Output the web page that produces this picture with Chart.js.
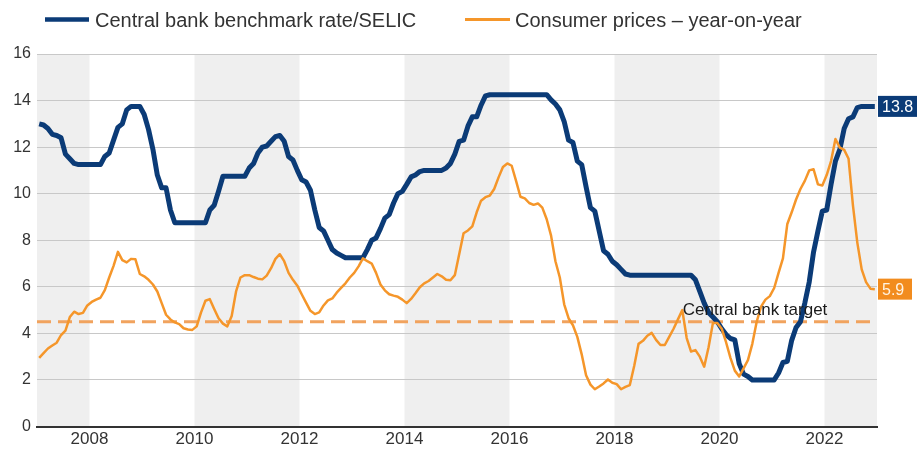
<!DOCTYPE html>
<html>
<head>
<meta charset="utf-8">
<script src="https://cdn.jsdelivr.net/npm/chart.js@4.4.0/dist/chart.umd.min.js"></script>
<style>
  html, body { margin: 0; padding: 0; background: #ffffff; }
  #wrap { width: 917px; height: 449px; position: relative; }
</style>
</head>
<body>
<div id="wrap"><canvas id="c" width="917" height="449"></canvas></div>
<script>
// ---------------- data ----------------
const startYear = 2007; // monthly data, January 2007 to December 2022
const seriesNames = ['Central bank benchmark rate/SELIC', 'Consumer prices \u2013 year-on-year'];

const selicRate = [
  13.0, 12.95, 12.8, 12.55, 12.5, 12.4, 11.7, 11.5, 11.3, 11.25, 11.25, 11.25,   // 2007
  11.25, 11.25, 11.25, 11.6, 11.75, 12.3, 12.85, 13.0, 13.6, 13.75, 13.75, 13.75, // 2008
  13.4, 12.75, 11.9, 10.8, 10.25, 10.25, 9.3, 8.75, 8.75, 8.75, 8.75, 8.75,       // 2009
  8.75, 8.75, 8.75, 9.3, 9.5, 10.1, 10.75, 10.75, 10.75, 10.75, 10.75, 10.75,     // 2010
  11.1, 11.3, 11.75, 12.0, 12.05, 12.25, 12.45, 12.5, 12.25, 11.6, 11.45, 11.0,   // 2011
  10.6, 10.5, 10.15, 9.3, 8.55, 8.4, 8.0, 7.6, 7.45, 7.35, 7.25, 7.25,            // 2012
  7.25, 7.25, 7.25, 7.6, 8.0, 8.1, 8.5, 8.95, 9.1, 9.6, 10.0, 10.1,               // 2013
  10.4, 10.72, 10.8, 10.95, 11.0, 11.0, 11.0, 11.0, 11.0, 11.1, 11.3, 11.7,       // 2014
  12.25, 12.3, 12.9, 13.3, 13.3, 13.8, 14.2, 14.25, 14.25, 14.25, 14.25, 14.25,   // 2015
  14.25, 14.25, 14.25, 14.25, 14.25, 14.25, 14.25, 14.25, 14.25, 14.03, 13.85, 13.6, // 2016
  13.1, 12.3, 12.2, 11.4, 11.25, 10.3, 9.4, 9.25, 8.4, 7.55, 7.4, 7.1,            // 2017
  6.95, 6.75, 6.55, 6.5, 6.5, 6.5, 6.5, 6.5, 6.5, 6.5, 6.5, 6.5,                  // 2018
  6.5, 6.5, 6.5, 6.5, 6.5, 6.5, 6.3, 5.8, 5.3, 4.9, 4.7, 4.5,                     // 2019
  4.2, 3.95, 3.78, 3.72, 2.7, 2.25, 2.15, 2.0, 2.0, 2.0, 2.0, 2.0,                // 2020
  2.0, 2.3, 2.75, 2.8, 3.7, 4.25, 4.5, 5.3, 6.2, 7.5, 8.4, 9.25,                  // 2021
  9.3, 10.4, 11.4, 11.9, 12.8, 13.22, 13.3, 13.7, 13.75, 13.75, 13.75, 13.75      // 2022
];

const consumerPrices = [
  2.95, 3.15, 3.35, 3.48, 3.6, 3.93, 4.12, 4.7, 4.93, 4.83, 4.88, 5.2,            // 2007
  5.35, 5.45, 5.53, 5.86, 6.4, 6.9, 7.5, 7.15, 7.05, 7.2, 7.18, 6.55,             // 2008
  6.45, 6.3, 6.1, 5.8, 5.3, 4.8, 4.6, 4.47, 4.4, 4.22, 4.17, 4.15,                // 2009
  4.3, 4.9, 5.4, 5.47, 5.05, 4.65, 4.42, 4.3, 4.75, 5.8, 6.4, 6.5,                // 2010
  6.5, 6.42, 6.35, 6.32, 6.48, 6.8, 7.2, 7.4, 7.1, 6.6, 6.3, 6.05,                // 2011
  5.68, 5.32, 4.97, 4.83, 4.9, 5.2, 5.42, 5.5, 5.75, 5.95, 6.15, 6.4,             // 2012
  6.6, 6.88, 7.22, 7.1, 7.0, 6.6, 6.1, 5.85, 5.68, 5.62, 5.57, 5.45,              // 2013
  5.3, 5.48, 5.72, 5.98, 6.15, 6.25, 6.4, 6.55, 6.45, 6.3, 6.28, 6.5,             // 2014
  7.4, 8.3, 8.42, 8.6, 9.2, 9.7, 9.85, 9.92, 10.2, 10.7, 11.15, 11.3,             // 2015
  11.2, 10.55, 9.87, 9.8, 9.6, 9.52, 9.58, 9.4, 8.9, 8.2, 7.1, 6.4,               // 2016
  5.25, 4.65, 4.35, 3.85, 3.1, 2.2, 1.8, 1.6, 1.72, 1.85, 2.02, 1.88,             // 2017
  1.82, 1.6, 1.7, 1.78, 2.6, 3.55, 3.68, 3.9, 4.02, 3.72, 3.5, 3.5,               // 2018
  3.85, 4.2, 4.6, 5.0, 3.8, 3.22, 3.28, 3.0, 2.57, 3.4, 4.45, 4.45,               // 2019
  4.2, 3.62, 2.95, 2.4, 2.15, 2.5, 2.85, 3.55, 4.5, 5.15, 5.45, 5.6,              // 2020
  5.95, 6.6, 7.22, 8.7, 9.2, 9.75, 10.2, 10.55, 11.0, 11.05, 10.4, 10.35,         // 2021
  10.8, 11.4, 12.35, 11.98, 11.88, 11.5, 9.5, 7.9, 6.75, 6.2, 5.92, 5.9           // 2022
];

const targetRate = 4.5;
const targetLabel = 'Central bank target';
const endLabels = ['13.8', '5.9'];
const tickYears = [2008, 2010, 2012, 2014, 2016, 2018, 2020, 2022];
const shadedPeriods = [[2007, 2008], [2010, 2012], [2014, 2016], [2018, 2020], [2022, 2023]];
const xRange = [2007, 2023];
const yRange = [0, 16];
const yStep = 2;

// ---------------- styles ----------------
const FONT = "'Liberation Sans', Arial, Helvetica, sans-serif";
const NAVY = '#0b3b77';
const ORANGE = '#f5962a';
const ORANGE_BOX = '#f28c1e';
const TARGET = '#f1a35e';
const BAND = '#efefef';
const GRID = '#c8c8c8';
const TEXT = '#333333';

const toPoints = arr => arr.map((v, i) => ({ x: startYear + (i + 0.5) / 12, y: v }));

const paintPlugin = {
  id: 'paint',
  beforeDraw(chart) {
    const { ctx, chartArea: a, scales: { x } } = chart;
    ctx.save();
    ctx.fillStyle = '#ffffff';
    ctx.fillRect(0, 0, chart.width, chart.height);
    ctx.fillStyle = BAND;
    shadedPeriods.forEach(([s, e]) => {
      const x0 = x.getPixelForValue(s), x1 = x.getPixelForValue(e);
      ctx.fillRect(x0, a.top, x1 - x0, a.bottom - a.top);
    });
    ctx.restore();
  },
  afterDraw(chart) {
    const { ctx, chartArea: a, scales: { x, y } } = chart;
    const ds = chart.data.datasets;
    ctx.save();

    // target label
    ctx.font = '17px ' + FONT;
    ctx.fillStyle = '#1a1a1a';
    ctx.textBaseline = 'alphabetic';
    ctx.textAlign = 'left';
    ctx.fillText(targetLabel, x.getPixelForValue(2019.3), y.getPixelForValue(targetRate) - 7);

    // end-value boxes
    const ends = [
      { v: selicRate[selicRate.length - 1], txt: endLabels[0], bg: NAVY, fg: '#ffffff' },
      { v: consumerPrices[consumerPrices.length - 1], txt: endLabels[1], bg: ORANGE_BOX, fg: '#fff3e2' }
    ];
    ctx.font = '16px ' + FONT;
    ctx.textBaseline = 'middle';
    ends.forEach(e => {
      const cy = y.getPixelForValue(e.v);
      const w = Math.max(ctx.measureText(e.txt).width + 8, 34);
      const x0 = a.right + 1;
      ctx.fillStyle = e.bg;
      ctx.fillRect(x0, cy - 10.5, w, 21);
      ctx.fillStyle = e.fg;
      ctx.fillText(e.txt, x0 + 4, cy + 1);
    });

    // legend
    const items = [
      { sx: 45, ex: 89, tx: 95, w: 4.5 },
      { sx: 465, ex: 510, tx: 515, w: 3 }
    ];
    ctx.font = '20px ' + FONT;
    ctx.textBaseline = 'alphabetic';
    items.forEach((it, i) => {
      ctx.strokeStyle = ds[i].borderColor;
      ctx.lineWidth = it.w;
      ctx.beginPath();
      ctx.moveTo(it.sx, 19.5);
      ctx.lineTo(it.ex, 19.5);
      ctx.stroke();
      ctx.fillStyle = TEXT;
      ctx.fillText(ds[i].label, it.tx, 27);
    });
    ctx.restore();
  }
};

new Chart(document.getElementById('c'), {
  type: 'line',
  data: {
    datasets: [
      { label: seriesNames[0], data: toPoints(selicRate), borderColor: NAVY, borderWidth: 5,
        pointRadius: 0, tension: 0, borderJoinStyle: 'round', order: 2 },
      { label: seriesNames[1], data: toPoints(consumerPrices), borderColor: ORANGE, borderWidth: 2.5,
        pointRadius: 0, tension: 0, borderJoinStyle: 'round', order: 1 },
      { label: targetLabel, data: [{ x: xRange[0], y: targetRate }, { x: xRange[1], y: targetRate }],
        borderColor: TARGET, borderWidth: 3, borderDash: [14, 7], pointRadius: 0, order: 3 }
    ]
  },
  options: {
    responsive: false,
    devicePixelRatio: 1,
    animation: false,
    layout: { padding: { top: 54, right: 40, bottom: 0, left: 0 } },
    plugins: { legend: { display: false }, tooltip: { enabled: false } },
    scales: {
      x: {
        type: 'linear', min: xRange[0], max: xRange[1],
        afterBuildTicks: s => { s.ticks = tickYears.map(v => ({ value: v })); },
        afterFit: s => { s.height = 22.5; },
        grid: { display: false, drawTicks: false },
        border: { display: true, color: '#333333', width: 2 },
        ticks: { font: { size: 17, family: FONT }, color: TEXT, padding: 3, maxRotation: 0,
                 autoSkip: false, callback: v => String(v) }
      },
      y: {
        min: yRange[0], max: yRange[1],
        afterFit: s => { s.width = 37; },
        grid: { color: GRID, lineWidth: 1, drawTicks: false },
        border: { display: false },
        ticks: { stepSize: yStep, font: { size: 16, family: FONT }, color: TEXT, padding: 6 }
      }
    }
  },
  plugins: [paintPlugin]
});
</script>
</body>
</html>
